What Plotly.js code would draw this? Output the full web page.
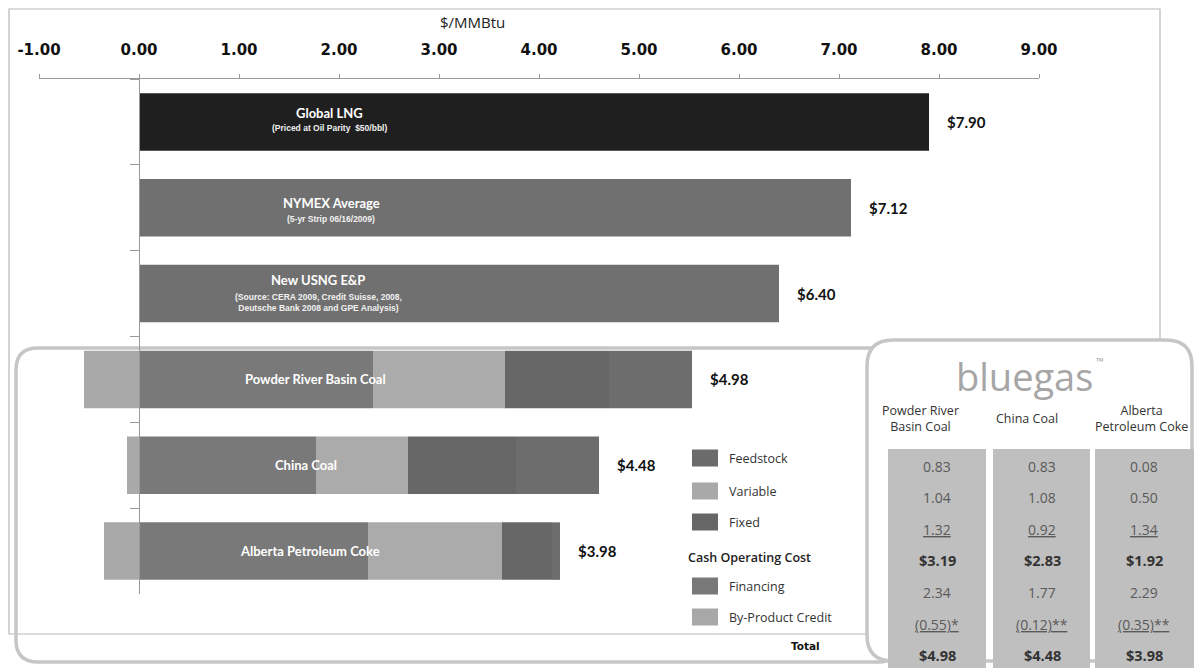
<!DOCTYPE html>
<html><head><meta charset="utf-8">
<script src="https://cdn.plot.ly/plotly-3.0.1.min.js"></script>
<style>html,body{margin:0;padding:0;background:#fff;}#chart{width:1196px;height:668px;}</style>
</head><body><div id="chart"></div>
<script>
// ---------- data ----------
const categories = ['Global LNG', 'NYMEX Average', 'New USNG E&P', 'Powder River Basin Coal', 'China Coal', 'Alberta Petroleum Coke'];
const subLabels = ['(Priced at Oil Parity  $50/bbl)', '(5-yr Strip 06/16/2009)', '(Source: CERA 2009, Credit Suisse, 2008,<br>Deutsche Bank 2008 and GPE Analysis)', '', '', ''];
const lngCategory = ['Global LNG'];
const lngPrice = [7.90];
const gasCategories = ['NYMEX Average', 'New USNG E&P'];
const gasPrices = [7.12, 6.40];
const coalCategories = ['Powder River Basin Coal', 'China Coal', 'Alberta Petroleum Coke'];
const feedstock = [0.83, 0.83, 0.08];
const variable = [1.04, 1.08, 0.50];
const fixed = [1.32, 0.92, 1.34];
const cashOperatingCost = [3.19, 2.83, 1.92];
const financing = [2.34, 1.77, 2.29];
const byProductCredit = [-0.55, -0.12, -0.35];
const creditNotes = ['*', '**', '**'];
const coalTotals = [4.98, 4.48, 3.98];
const tickValues = [-1, 0, 1, 2, 3, 4, 5, 6, 7, 8, 9];
const tickLabels = ['-1.00', '0.00', '1.00', '2.00', '3.00', '4.00', '5.00', '6.00', '7.00', '8.00', '9.00'];
const tableHeaders = ['Powder River<br>Basin Coal', 'China Coal', 'Alberta<br>Petroleum Coke'];
const legendNames = ['Feedstock', 'Variable', 'Fixed', 'Cash Operating Cost', 'Financing', 'By-Product Credit'];
const totalLabel = 'Total';
const brandName = 'bluegas';

// ---------- styles ----------
const C = {
  lng: '#1f1f1f', gas: '#707070',
  financing: '#797979', fixed: '#ababab', variable: '#676767', feedstock: '#6d6d6d', credit: '#a9a9a9',
  axis: '#9a9a9a', frame: '#b8b8b8', box: '#c6c6c6', band: '#bfbfbf'
};
const legendSwatch = ['#6b6b6b', '#a9a9a9', '#666666', null, '#787878', '#a8a8a8'];

// pixel helpers for decorative layout (plot area: x 39..1039, y 79..594)
const L = 39, R = 1039, T = 79, B = 594;
const px = x => (x - L) / (R - L);
const py = y => (B - y) / (B - T);
function roundRect(x0, y0, x1, y1, r) {
  const X = px, Y = py;
  return `M${X(x0 + r)},${Y(y0)} L${X(x1 - r)},${Y(y0)} Q${X(x1)},${Y(y0)} ${X(x1)},${Y(y0 + r)} ` +
    `L${X(x1)},${Y(y1 - r)} Q${X(x1)},${Y(y1)} ${X(x1 - r)},${Y(y1)} L${X(x0 + r)},${Y(y1)} ` +
    `Q${X(x0)},${Y(y1)} ${X(x0)},${Y(y1 - r)} L${X(x0)},${Y(y0 + r)} Q${X(x0)},${Y(y0)} ${X(x0 + r)},${Y(y0)} Z`;
}

const barCommon = { type: 'bar', orientation: 'h', hoverinfo: 'x+y', showlegend: false };
function bar(name, y, x, color) {
  return Object.assign({}, barCommon, { name: name, y: y, x: x, marker: { color: color, line: { width: 0 } } });
}
const traces = [
  bar('Global LNG', lngCategory, lngPrice, C.lng),
  bar('Natural gas', gasCategories, gasPrices, C.gas),
  bar('Financing', coalCategories, financing, C.financing),
  bar('Fixed', coalCategories, fixed, C.fixed),
  bar('Variable', coalCategories, variable, C.variable),
  bar('Feedstock', coalCategories, feedstock, C.feedstock),
  bar('By-Product Credit', coalCategories, byProductCredit, C.credit)
];

const annotations = [];
// axis title
annotations.push({ xref: 'paper', yref: 'paper', x: px(472), y: py(22), text: '$/MMBtu',
  font: { family: 'Open Sans, sans-serif', size: 15, color: '#222' } });

// bar labels inside bars
const labelX = [1.9, 1.92, 1.79, 1.76, 1.67, 1.71];
const mainShift = [9, 5, 14, 0, 0, 0];
const subShift = [-6, -11, -9, 0, 0, 0];
categories.forEach((c, i) => {
  annotations.push({ x: labelX[i], y: c, text: '<b>' + c + '</b>', yshift: mainShift[i],
    font: { family: 'Lato, sans-serif', size: 13, color: '#ffffff' } });
  if (subLabels[i]) annotations.push({ x: labelX[i], y: c, text: '<b>' + subLabels[i] + '</b>', yshift: subShift[i],
    font: { family: 'Liberation Sans Narrow, Arial Narrow, sans-serif', size: 8.5, color: '#f0f0f0' } });
});
// value labels
const ends = [lngPrice[0], gasPrices[0], gasPrices[1]].concat(coalCategories.map((c, i) => financing[i] + fixed[i] + variable[i] + feedstock[i]));
const totals = [lngPrice[0], gasPrices[0], gasPrices[1]].concat(coalTotals);
categories.forEach((c, i) => {
  annotations.push({ x: ends[i], y: c, text: '$' + totals[i].toFixed(2), xanchor: 'left', xshift: 16,
    font: { family: 'Lato, sans-serif', size: 15, color: '#111', weight: 'bold' } });
});

// legend (custom)
const legY = [458, 491, 522, 557, 586, 617];
const shapes = [];
legendNames.forEach((n, i) => {
  if (legendSwatch[i]) {
    shapes.push({ type: 'rect', xref: 'paper', yref: 'paper', x0: px(692), x1: px(718), y0: py(legY[i] - 8.5), y1: py(legY[i] + 8.5),
      fillcolor: legendSwatch[i], line: { width: 0 }, layer: 'above' });
    annotations.push({ xref: 'paper', yref: 'paper', x: px(727), y: py(legY[i]), xanchor: 'left', text: n,
      font: { family: 'Open Sans, sans-serif', size: 12.5, color: '#333' } });
  } else {
    annotations.push({ xref: 'paper', yref: 'paper', x: px(686), y: py(legY[i]), xanchor: 'left', text: n,
      font: { family: 'Open Sans, sans-serif', size: 12.5, color: '#222', weight: 600 } });
  }
});
annotations.push({ xref: 'paper', yref: 'paper', x: px(805), y: py(646), text: '<b>' + totalLabel + '</b>',
  font: { family: 'DejaVu Sans, sans-serif', size: 10.5, color: '#111' } });

// decorative frames (drawn first)
const frame = [
  { type: 'rect', xref: 'paper', yref: 'paper', x0: px(9), x1: px(1160), y0: py(9), y1: py(634), line: { color: C.frame, width: 1.2 }, layer: 'below' },
  { type: 'path', xref: 'paper', yref: 'paper', path: roundRect(16, 348, 900, 662, 22), line: { color: C.box, width: 3.5 }, layer: 'below' },
  { type: 'path', xref: 'paper', yref: 'paper', path: roundRect(867, 340, 1192, 661, 26), fillcolor: '#ffffff', line: { color: C.box, width: 3.5 }, layer: 'above' }
];

// table
const colX = [937, 1042, 1144];
const headerX = [920, 1027, 1141];
const headerY = [418, 409, 418];
const bandX = [[888, 986], [993, 1090], [1095, 1194]];
const rowY = [466, 497, 529, 560, 592, 624, 655];
const bands = bandX.map(b => ({ type: 'rect', xref: 'paper', yref: 'paper', x0: px(b[0]), x1: px(b[1]), y0: py(449), y1: py(668),
  fillcolor: C.band, line: { width: 0 }, layer: 'above' }));
annotations.push({ xref: 'paper', yref: 'paper', x: px(1024), y: py(376), text: brandName,
  font: { family: 'Open Sans, sans-serif', size: 38, color: '#a6a6a6' } });
annotations.push({ xref: 'paper', yref: 'paper', x: px(1094), y: py(361), xanchor: 'left', text: '™',
  font: { family: 'Open Sans, sans-serif', size: 10, color: '#a6a6a6' } });
coalCategories.forEach((c, i) => {
  annotations.push({ xref: 'paper', yref: 'paper', x: px(headerX[i]), y: py(headerY[i] + (i === 1 ? 9 : 0)), text: tableHeaders[i],
    font: { family: 'Open Sans, sans-serif', size: 12.5, color: '#333' } });
  const cells = [
    feedstock[i].toFixed(2),
    variable[i].toFixed(2),
    '<u>' + fixed[i].toFixed(2) + '</u>',
    '<b>$' + cashOperatingCost[i].toFixed(2) + '</b>',
    financing[i].toFixed(2),
    '<u>(' + Math.abs(byProductCredit[i]).toFixed(2) + ')' + creditNotes[i] + '</u>',
    '<b>$' + coalTotals[i].toFixed(2) + '</b>'
  ];
  cells.forEach((t, r) => {
    const bold = t.indexOf('<b>') === 0;
    annotations.push({ xref: 'paper', yref: 'paper', x: px(colX[i]), y: py(rowY[r]), text: t,
      font: { family: 'Open Sans, sans-serif', size: bold ? 14.5 : 14, color: bold ? '#333' : '#5a5a5a' } });
  });
});
annotations.forEach(a => {
  a.showarrow = false;
  if (!a.xanchor) a.xanchor = 'center';
  if (!a.yanchor) a.yanchor = 'middle';
});

const layout = {
  width: 1196, height: 668,
  margin: { l: L, r: 1196 - R, t: T, b: 668 - B, pad: 0 },
  paper_bgcolor: '#ffffff', plot_bgcolor: 'rgba(0,0,0,0)',
  barmode: 'relative', bargap: 0.33,
  showlegend: false,
  xaxis: {
    side: 'top', range: [-1, 9], tickmode: 'array', tickvals: tickValues, ticktext: tickLabels,
    showgrid: false, zeroline: false, showline: true, linecolor: C.axis, linewidth: 1,
    ticks: 'outside', ticklen: 4, tickcolor: C.axis, ticklabelstandoff: 13,
    tickfont: { family: 'DejaVu Sans, sans-serif', size: 15, color: '#111', weight: 'bold' }
  },
  yaxis: {
    type: 'category', categoryorder: 'array', categoryarray: categories, autorange: 'reversed',
    anchor: 'free', position: px(139),
    showgrid: false, zeroline: false, showline: true, linecolor: C.axis, linewidth: 1,
    ticks: 'outside', ticklen: 9, tickcolor: C.axis, tickson: 'boundaries', showticklabels: false
  },
  shapes: frame.concat(shapes).concat(bands),
  annotations: annotations
};

Plotly.newPlot('chart', traces, layout, { displayModeBar: false, staticPlot: true });
</script></body></html>
